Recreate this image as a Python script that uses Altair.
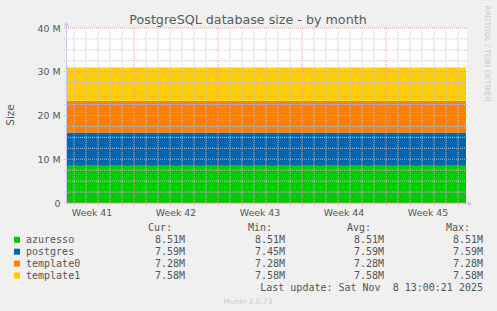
import altair as alt
import pandas as pd

# ---------------- data ----------------
series_names = ["azuresso", "postgres", "template0", "template1"]
series_colors = ["#00CC00", "#0066B3", "#FF8000", "#FFCC00"]
cur_vals = [8.51, 7.59, 7.28, 7.58]   # M
min_vals = [8.51, 7.45, 7.28, 7.58]
avg_vals = [8.51, 7.59, 7.28, 7.58]
max_vals = [8.51, 7.59, 7.28, 7.58]

t_points = ["2025-10-06T10:00:00Z", "2025-11-08T16:00:00Z"]  # data span
week_labels = ["Week 41", "Week 42", "Week 43", "Week 44", "Week 45"]
week_mid = ["2025-10-08T12:00:00Z", "2025-10-15T12:00:00Z", "2025-10-22T12:00:00Z",
            "2025-10-29T12:00:00Z", "2025-11-05T12:00:00Z"]
y_ticks = [0, 2.5, 5, 7.5, 10, 12.5, 15, 17.5, 20, 22.5, 25, 27.5, 30, 32.5, 35, 37.5, 40]
y_labels = [0, 10, 20, 30, 40]

title_text = "PostgreSQL database size - by month"
last_update = "Last update: Sat Nov\u00a0\u00a08 13:00:21 2025"
footer = "Munin 2.0.73"
side_text = "RRDTOOL / TOBI OETIKER"

rows = []
for i, (n, v) in enumerate(zip(series_names, cur_vals)):
    for t in t_points:
        rows.append({"time": t, "series": n, "value": v, "ord": i})
df = pd.DataFrame(rows)

# ---------------- layout ----------------
W, H = 400, 175
dom = [alt.DateTime(year=2025, month=10, date=6, hours=10, utc=True),
       alt.DateTime(year=2025, month=11, date=8, hours=18, utc=True)]
xscale = alt.Scale(type="utc", domain=dom, nice=False)
yscale = alt.Scale(domain=[0, 40], nice=False, zero=True)

days = pd.date_range("2025-10-07", "2025-11-08", freq="D")
day_df = pd.DataFrame({
    "t": [d.strftime("%Y-%m-%dT00:00:00Z") for d in days],
    "major": [d.dayofweek == 6 for d in days],
})
ygrid_df = pd.DataFrame({"v": y_ticks, "major": [v % 10 == 0 for v in y_ticks]})

GRID_MINOR = "#c4c4c4"
GRID_MAJOR = "#e6a0a0"
TXT = "#555555"
AXIS_BLUE = "#c8c8f8"

yaxis = alt.Axis(values=y_labels, title=None, grid=False, ticks=False,
                 labelPadding=7, domain=False,
                 labelExpr="datum.value === 0 ? '0' : datum.value + ' M'",
                 labelFont="DejaVu Sans", labelFontSize=9.4, labelColor=TXT)

area = alt.Chart(df).mark_area(opacity=1, interpolate="step-after").encode(
    x=alt.X("time:T", scale=xscale, axis=None),
    y=alt.Y("value:Q", stack="zero", scale=yscale, axis=yaxis),
    color=alt.Color("series:N", scale=alt.Scale(domain=series_names, range=series_colors), legend=None),
    order=alt.Order("ord:Q", sort="ascending"),
)

gcolor = alt.Color("major:N", scale=alt.Scale(domain=[False, True], range=[GRID_MINOR, GRID_MAJOR]),
                   legend=None)

vgrid = alt.Chart(day_df).mark_rule(strokeDash=[1, 1], strokeWidth=1).encode(
    x=alt.X("t:T", scale=xscale, axis=None), y=alt.value(0), y2=alt.value(H + 3), color=gcolor)
hgrid = alt.Chart(ygrid_df).mark_rule(strokeDash=[1, 1], strokeWidth=1).encode(
    y=alt.Y("v:Q", scale=yscale), x=alt.value(-3), x2=alt.value(W + 1), color=gcolor)

weeks = alt.Chart(pd.DataFrame({"t": week_mid, "lab": week_labels})).mark_text(
    font="DejaVu Sans", fontSize=9.4, color=TXT, align="center", baseline="alphabetic"
).encode(x=alt.X("t:T", scale=xscale, axis=None), y=alt.value(188), text="lab:N")

one = pd.DataFrame({"a": [0]})


def txt(s, x, y, size=10, color=TXT, font="DejaVu Sans Mono", align="left",
        baseline="alphabetic", angle=0):
    kw = dict(font=font, fontSize=size, color=color, align=align, baseline=baseline)
    if angle:
        kw["angle"] = angle
    return alt.Chart(one).mark_text(**kw).encode(
        x=alt.value(x), y=alt.value(y), text=alt.value(s))


layers = [area, vgrid, hgrid, weeks]
# axis lines with arrows
layers.append(alt.Chart(one).mark_rule(color=AXIS_BLUE, strokeWidth=1).encode(
    x=alt.value(-0.5), y=alt.value(-5), y2=alt.value(H)))
layers.append(alt.Chart(one).mark_rule(color=AXIS_BLUE, strokeWidth=1).encode(
    x=alt.value(-0.5), x2=alt.value(403), y=alt.value(H + 0.5)))
layers.append(alt.Chart(one).mark_point(shape="triangle-up", filled=True, size=28,
                                        color=AXIS_BLUE, opacity=1).encode(
    x=alt.value(-0.5), y=alt.value(-4)))
layers.append(alt.Chart(one).mark_point(shape="triangle-right", filled=True, size=28,
                                        color=AXIS_BLUE, opacity=1).encode(
    x=alt.value(403), y=alt.value(H + 0.5)))

# texts
layers.append(txt(title_text, 181, -4, size=12.7, font="DejaVu Sans", align="center", color="#5a5a5a"))
layers.append(txt("Size", -56.5, 87, size=10.5, font="DejaVu Sans", align="center",
                  baseline="middle", angle=270))
layers.append(txt(side_text, 420, 25.5, size=7.5, font="DejaVu Sans", align="center",
                  baseline="middle", angle=90, color="#c8c8c8"))

col_right = [118, 218, 317, 416]
headers = ["Cur:", "Min:", "Avg:", "Max:"]
for h, xr in zip(headers, col_right):
    layers.append(txt(h, xr - 13, 203, align="right"))

for i, name in enumerate(series_names):
    yb = 215.3 + 11.9 * i
    layers.append(alt.Chart(one).mark_square(size=36, color=series_colors[i], opacity=1).encode(
        x=alt.value(-50), y=alt.value(yb - 3.5)))
    layers.append(txt(name, -41, yb))
    for vals, xr in zip([cur_vals, min_vals, avg_vals, max_vals], col_right):
        layers.append(txt(f"{vals[i]:.2f}M", xr, yb, align="right"))

layers.append(txt(last_update, 416, 263, align="right"))
layers.append(txt(footer, 181, 276, size=7.5, font="DejaVu Sans", align="center", color="#cccccc"))

chart = alt.layer(*layers).resolve_scale(color="independent").properties(
    width=W, height=H,
    background="#F0F0F0",
    padding={"left": 67, "top": 28, "right": 30, "bottom": 108},
    autosize=alt.AutoSizeParams(type="none"),
).configure_view(fill="white", stroke=None)

chart.save("out.html", embed_options={"renderer": "svg", "actions": False})
